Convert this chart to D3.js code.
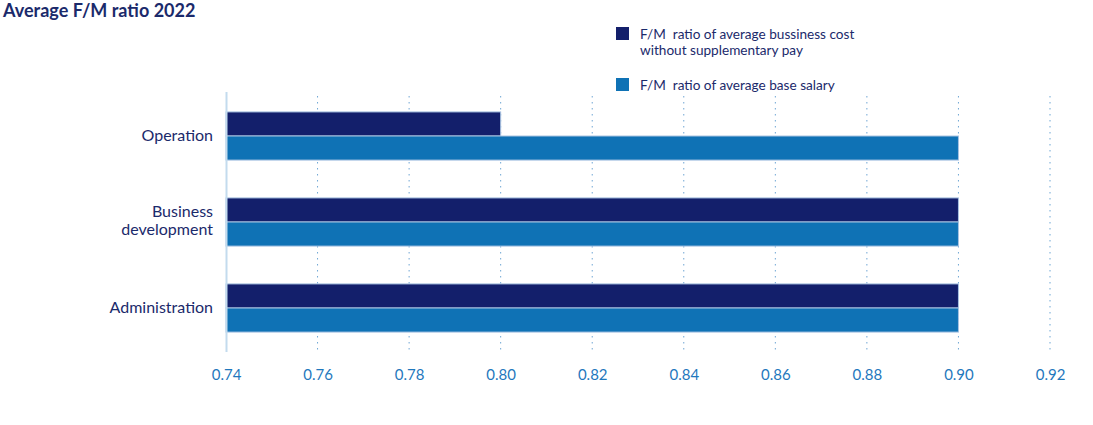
<!DOCTYPE html>
<html>
<head>
<meta charset="utf-8">
<script src="https://cdn.jsdelivr.net/npm/d3@7"></script>
<style>
  body { margin: 0; background: #fff; }
  svg { font-family: Lato, "Open Sans", sans-serif; }
</style>
</head>
<body>
<div id="chart"></div>
<script>
// chart data
var categories = ["Operation", "Business development", "Administration"];
var seriesNames = [
  "F/M  ratio of average bussiness cost without supplementary pay",
  "F/M  ratio of average base salary"
];
var businessCost = [0.80, 0.90, 0.90];
var baseSalary = [0.90, 0.90, 0.90];
var tickValues = [0.74, 0.76, 0.78, 0.80, 0.82, 0.84, 0.86, 0.88, 0.90, 0.92];

var width = 1093;
var height = 425;
var navy = "#131f6b";
var blue = "#0f72b5";

var svg = d3.select("#chart")
    .append("svg")
    .attr("width", width)
    .attr("height", height);

// title
svg.append("text")
    .attr("x", 3)
    .attr("y", 17)
    .attr("font-size", 18)
    .attr("font-weight", "bold")
    .attr("fill", "#1b2a6b")
    .text("Average F/M ratio 2022");

// scales
var xScale = d3.scaleLinear()
    .domain([0.74, 0.92])
    .range([226, 1050]);

var yScale = d3.scaleBand()
    .domain(categories)
    .range([93, 351])
    .paddingInner(0.44)
    .paddingOuter(0.22);

var subScale = d3.scaleBand()
    .domain(["cost", "base"])
    .range([0, yScale.bandwidth()]);

// dotted gridlines
svg.append("g")
    .selectAll("line")
    .data(tickValues.slice(1))
    .enter()
    .append("line")
    .attr("x1", function(d) { return xScale(d); })
    .attr("x2", function(d) { return xScale(d); })
    .attr("y1", 96)
    .attr("y2", 351)
    .attr("stroke", "#6fa6d4")
    .attr("stroke-width", 1)
    .attr("stroke-dasharray", "1.5,4.5");

// bars
var rows = categories.map(function(c, i) {
  return {cat: c, values: [
    {key: "cost", value: businessCost[i], color: navy},
    {key: "base", value: baseSalary[i], color: blue}
  ]};
});

var groups = svg.append("g")
    .selectAll("g")
    .data(rows)
    .enter()
    .append("g")
    .attr("transform", function(d) { return "translate(0," + yScale(d.cat) + ")"; });

groups.selectAll("rect")
    .data(function(d) { return d.values; })
    .enter()
    .append("rect")
    .attr("x", xScale(0.74))
    .attr("y", function(d) { return subScale(d.key); })
    .attr("width", function(d) { return xScale(d.value) - xScale(0.74); })
    .attr("height", subScale.bandwidth())
    .attr("fill", function(d) { return d.color; })
    .attr("stroke", "#a9c3e2")
    .attr("stroke-width", 1);

// y axis line
svg.append("line")
    .attr("x1", 226.5)
    .attr("x2", 226.5)
    .attr("y1", 92)
    .attr("y2", 352)
    .attr("stroke", "#c3dbee")
    .attr("stroke-width", 2);

// category labels
var catLabels = svg.append("g")
    .selectAll("text")
    .data(categories)
    .enter()
    .append("text")
    .attr("text-anchor", "end")
    .attr("font-size", 16)
    .attr("fill", "#1b2a6b")
    .attr("x", 213)
    .attr("y", function(d) { return yScale(d) + yScale.bandwidth() / 2 + 5; });

catLabels.each(function(d) {
  var t = d3.select(this);
  if (d === "Business development") {
    t.append("tspan").attr("x", 213).attr("dy", -10).text("Business");
    t.append("tspan").attr("x", 213).attr("dy", 18).text("development");
  } else {
    t.text(d);
  }
});

// x tick labels
var xAxis = d3.axisBottom(xScale)
    .tickValues(tickValues)
    .tickSize(0)
    .tickPadding(0)
    .tickFormat(d3.format(".2f"));

var gx = svg.append("g")
    .attr("transform", "translate(0,369)")
    .call(xAxis);
gx.select(".domain").remove();
gx.selectAll("text")
    .attr("font-family", "Lato, 'Open Sans', sans-serif")
    .attr("font-size", 15)
    .attr("fill", "#1f78bd");

// legend
var legend = svg.append("g");
var legendRows = [
  {y: 27, color: navy, lines: ["F/M  ratio of average bussiness cost", "without supplementary pay"]},
  {y: 78, color: blue, lines: ["F/M  ratio of average base salary"]}
];
legendRows.forEach(function(r) {
  legend.append("rect")
      .attr("x", 616)
      .attr("y", r.y)
      .attr("width", 13)
      .attr("height", 13)
      .attr("fill", r.color);
  var t = legend.append("text")
      .attr("font-size", 13.6)
      .attr("fill", "#1b2a6b")
      .attr("y", r.y + 12);
  r.lines.forEach(function(l, i) {
    t.append("tspan")
        .attr("x", 640)
        .attr("dy", i === 0 ? 0 : 16)
        .style("white-space", "pre")
        .text(l);
  });
});
</script>
</body>
</html>
